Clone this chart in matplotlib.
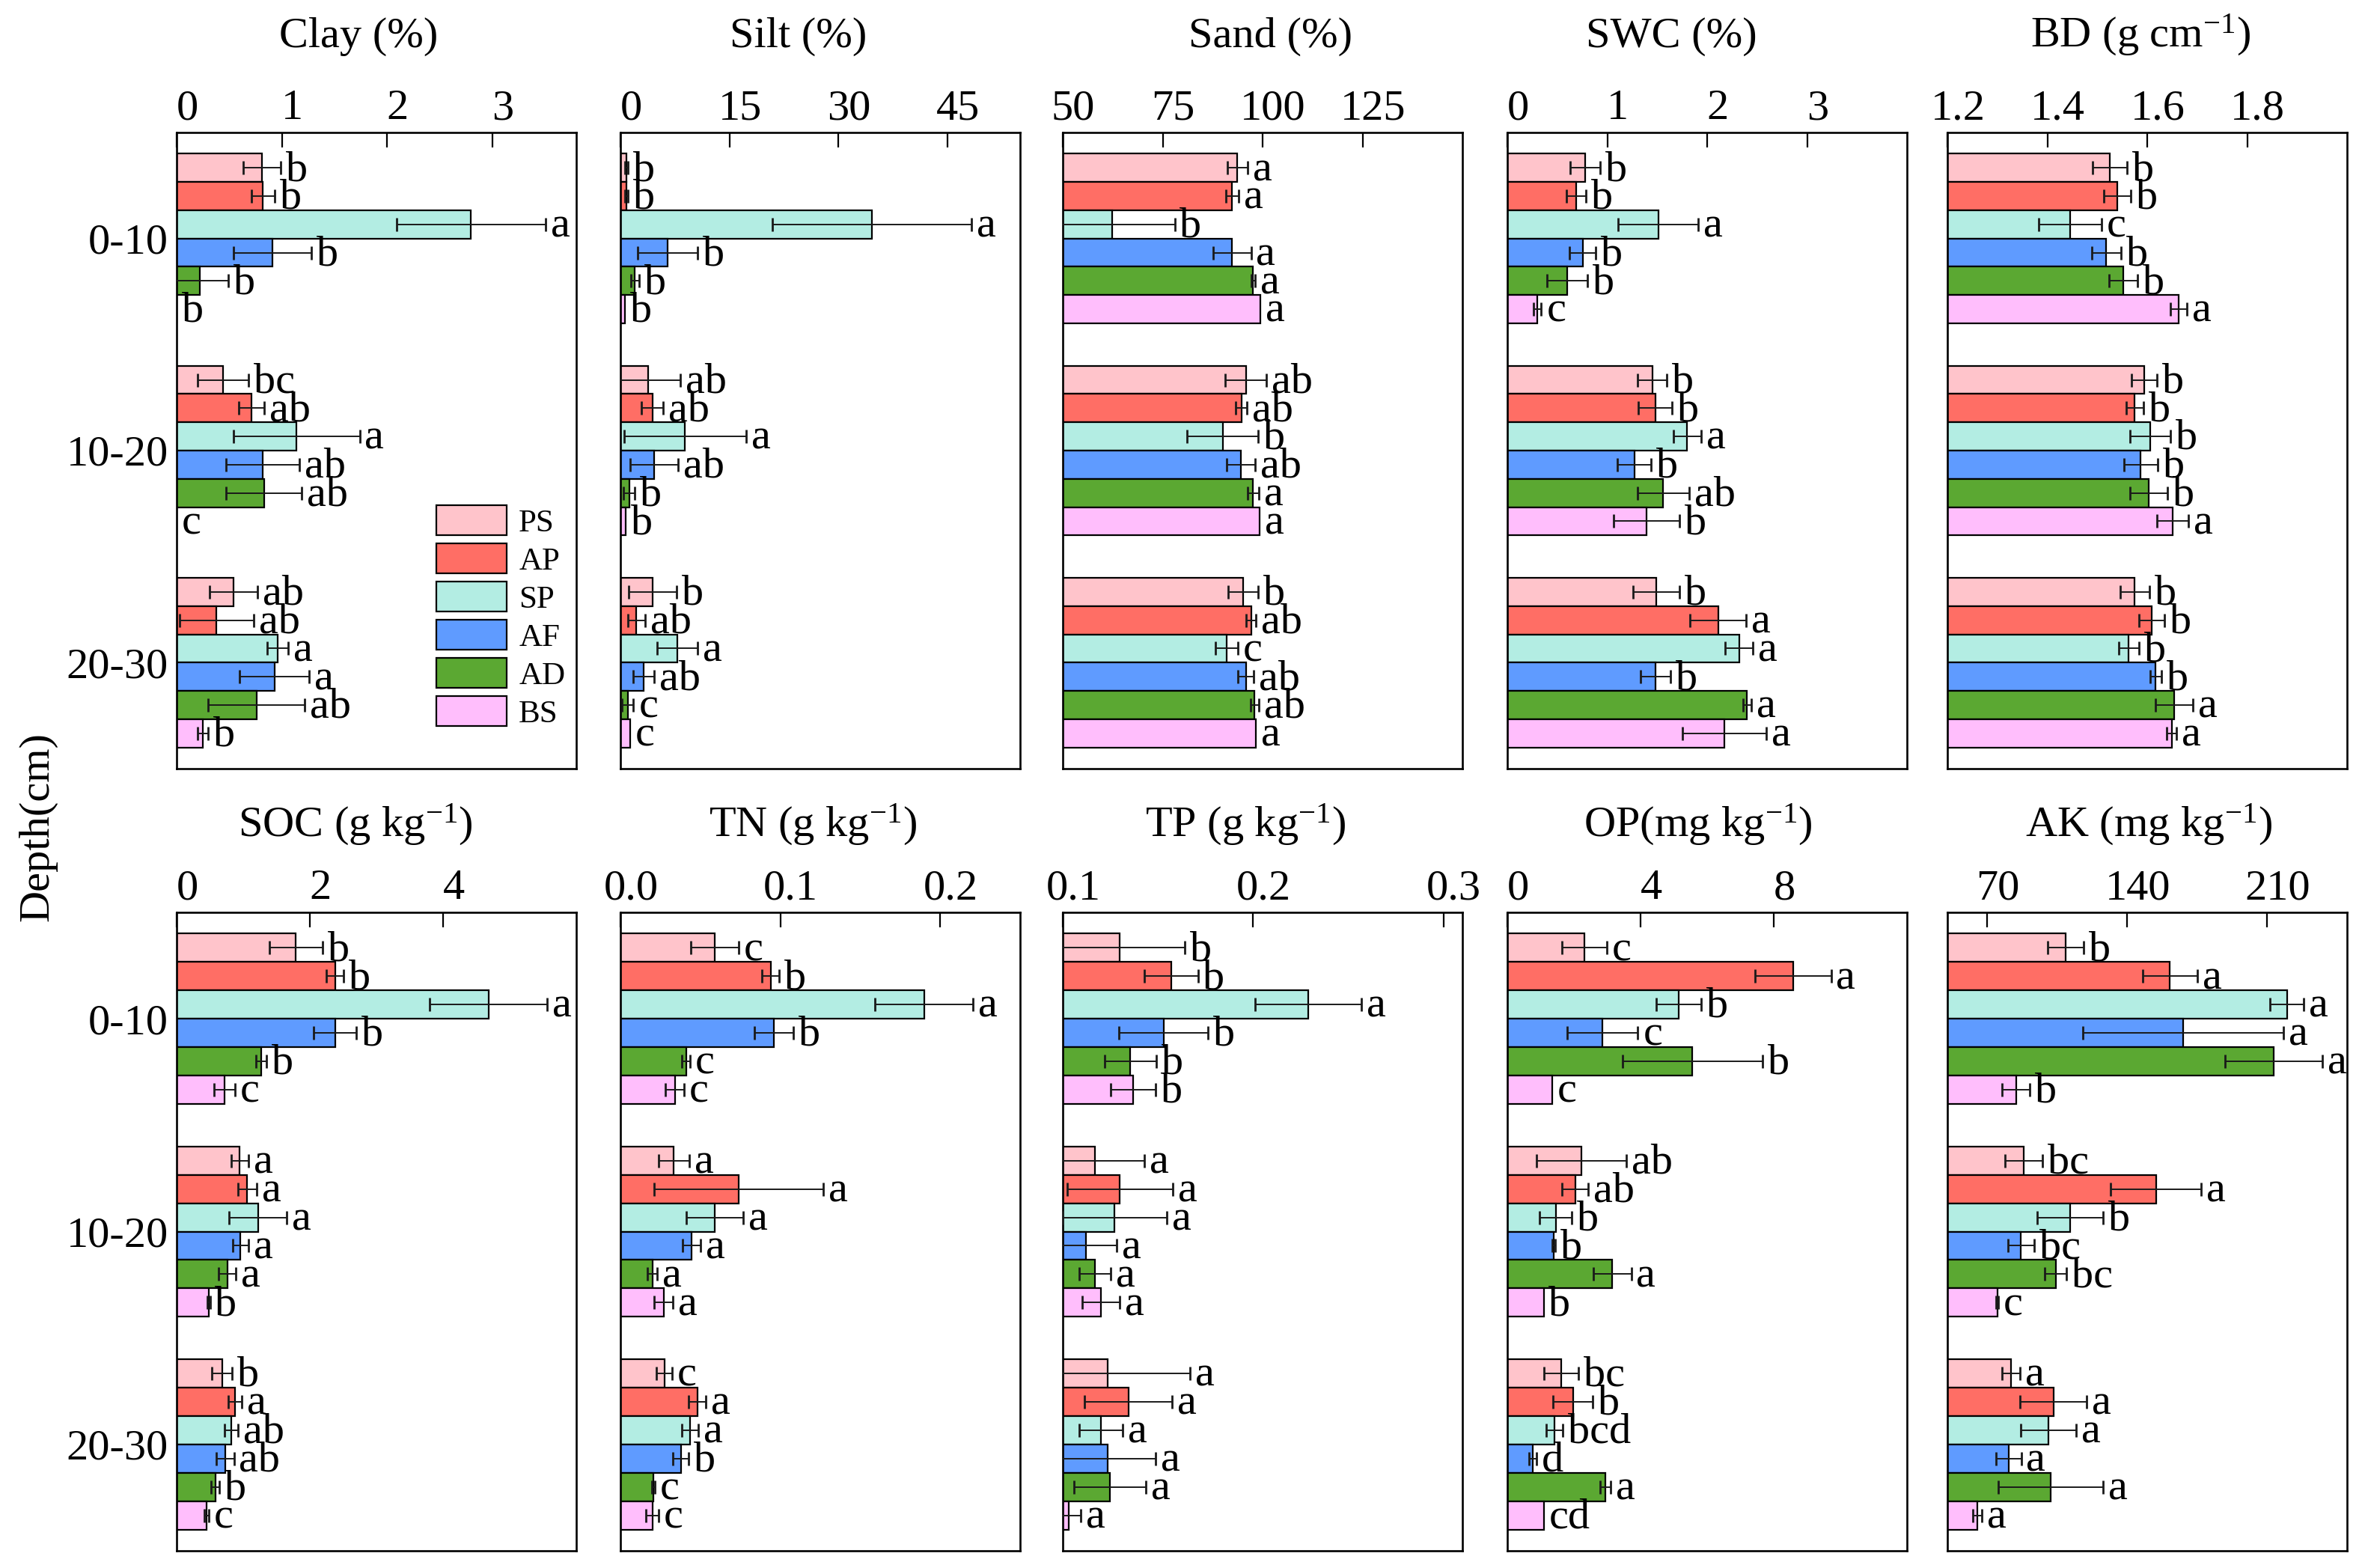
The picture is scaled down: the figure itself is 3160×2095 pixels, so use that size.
import numpy as np
import matplotlib
matplotlib.use('Agg')
from matplotlib import pyplot as plt
from matplotlib.patches import Patch
from matplotlib.transforms import ScaledTranslation

plt.rcParams['font.family'] = ['Liberation Serif', 'DejaVu Serif']
plt.rcParams['mathtext.fontset'] = 'custom'
plt.rcParams['mathtext.rm'] = 'Liberation Serif'
plt.rcParams['mathtext.it'] = 'Liberation Serif:italic'

treatments = ['PS', 'AP', 'SP', 'AF', 'AD', 'BS']
colors = ['#FFC4CB', '#FF6E65', '#B3EDE3', '#5F9BFF', '#5BA832', '#FFBEFC']
depths = ['0-10', '10-20', '20-30']

# rows = depth (0-10, 10-20, 20-30), columns = treatments
clay_mean = [[0.81, 0.82, 2.80, 0.91, 0.22, 0.0],
             [0.44, 0.71, 1.14, 0.82, 0.83, 0.0],
             [0.54, 0.38, 0.96, 0.93, 0.76, 0.25]]
clay_err = [[0.18, 0.11, 0.71, 0.37, 0.27, 0.0],
            [0.24, 0.12, 0.60, 0.35, 0.36, 0.0],
            [0.23, 0.35, 0.10, 0.33, 0.46, 0.05]]
clay_sig = [['b', 'b', 'a', 'b', 'b', 'b'],
            ['bc', 'ab', 'a', 'ab', 'ab', 'c'],
            ['ab', 'ab', 'a', 'a', 'ab', 'b']]

silt_mean = [[0.8, 0.8, 34.6, 6.5, 2.0, 0.6],
             [3.8, 4.4, 8.9, 4.6, 1.2, 0.7],
             [4.4, 2.2, 7.8, 3.2, 1.0, 1.3]]
silt_err = [[0.2, 0.2, 13.7, 4.1, 0.6, 0.0],
            [4.4, 1.5, 8.4, 3.3, 0.8, 0.0],
            [3.3, 1.2, 2.8, 1.4, 0.8, 0.0]]
silt_sig = [['b', 'b', 'a', 'b', 'b', 'b'],
            ['ab', 'ab', 'a', 'ab', 'b', 'b'],
            ['b', 'ab', 'a', 'ab', 'c', 'c']]

sand_mean = [[93.7, 92.4, 62.4, 92.4, 97.6, 99.4],
             [95.8, 94.7, 90.0, 94.6, 97.6, 99.2],
             [95.1, 97.1, 91.0, 95.8, 98.0, 98.4]]
sand_err = [[2.5, 1.6, 15.6, 4.7, 0.5, 0.0],
            [5.1, 1.4, 8.9, 3.6, 1.4, 0.0],
            [3.8, 1.3, 2.8, 2.0, 1.0, 0.0]]
sand_sig = [['a', 'a', 'b', 'a', 'a', 'a'],
            ['ab', 'ab', 'b', 'ab', 'a', 'a'],
            ['b', 'ab', 'c', 'ab', 'ab', 'a']]

swc_mean = [[0.78, 0.69, 1.51, 0.755, 0.60, 0.30],
            [1.45, 1.48, 1.80, 1.27, 1.56, 1.39],
            [1.49, 2.11, 2.32, 1.48, 2.40, 2.17]]
swc_err = [[0.15, 0.095, 0.40, 0.13, 0.20, 0.04],
           [0.145, 0.17, 0.14, 0.17, 0.26, 0.33],
           [0.235, 0.28, 0.14, 0.15, 0.04, 0.42]]
swc_sig = [['b', 'b', 'a', 'b', 'b', 'c'],
           ['b', 'b', 'a', 'b', 'ab', 'b'],
           ['b', 'a', 'a', 'b', 'a', 'a']]

bd_mean = [[1.525, 1.540, 1.446, 1.518, 1.552, 1.663],
           [1.594, 1.575, 1.606, 1.587, 1.603, 1.651],
           [1.575, 1.609, 1.563, 1.617, 1.654, 1.649]]
bd_err = [[0.035, 0.027, 0.063, 0.029, 0.028, 0.016],
          [0.026, 0.017, 0.040, 0.034, 0.037, 0.032],
          [0.029, 0.025, 0.020, 0.011, 0.037, 0.010]]
bd_sig = [['b', 'b', 'c', 'b', 'b', 'a'],
          ['b', 'b', 'b', 'b', 'b', 'a'],
          ['b', 'b', 'b', 'b', 'a', 'a']]

soc_mean = [[1.79, 2.38, 4.68, 2.38, 1.27, 0.72],
            [0.945, 1.06, 1.22, 0.96, 0.76, 0.48],
            [0.68, 0.88, 0.82, 0.73, 0.58, 0.45]]
soc_err = [[0.40, 0.13, 0.88, 0.32, 0.08, 0.155],
           [0.13, 0.14, 0.43, 0.12, 0.13, 0.02],
           [0.15, 0.10, 0.10, 0.13, 0.06, 0.03]]
soc_sig = [['b', 'b', 'a', 'b', 'b', 'c'],
           ['a', 'a', 'a', 'a', 'a', 'b'],
           ['b', 'a', 'ab', 'ab', 'b', 'c']]

tn_mean = [[0.059, 0.094, 0.190, 0.096, 0.041, 0.034],
           [0.0334, 0.074, 0.059, 0.0445, 0.020, 0.027],
           [0.0274, 0.048, 0.0436, 0.0377, 0.0206, 0.020]]
tn_err = [[0.0148, 0.0054, 0.0306, 0.0123, 0.0025, 0.0058],
          [0.0096, 0.053, 0.018, 0.0057, 0.003, 0.006],
          [0.0047, 0.0052, 0.005, 0.005, 0.001, 0.004]]
tn_sig = [['c', 'b', 'a', 'b', 'c', 'c'],
          ['a', 'a', 'a', 'a', 'a', 'a'],
          ['c', 'a', 'a', 'b', 'c', 'c']]

tp_mean = [[0.130, 0.157, 0.229, 0.153, 0.1355, 0.1369],
           [0.117, 0.130, 0.127, 0.112, 0.117, 0.120],
           [0.1237, 0.1346, 0.120, 0.1237, 0.1248, 0.103]]
tp_err = [[0.034, 0.014, 0.028, 0.0234, 0.0136, 0.0117],
          [0.026, 0.0277, 0.0275, 0.0163, 0.0083, 0.0098],
          [0.043, 0.023, 0.0113, 0.025, 0.0189, 0.0065]]
tp_sig = [['b', 'b', 'a', 'b', 'b', 'b'],
          ['a', 'a', 'a', 'a', 'a', 'a'],
          ['a', 'a', 'a', 'a', 'a', 'a']]

op_mean = [[2.31, 8.58, 5.15, 2.86, 5.56, 1.34],
           [2.23, 2.04, 1.45, 1.39, 3.15, 1.09],
           [1.61, 1.97, 1.41, 0.76, 2.95, 1.09]]
op_err = [[0.67, 1.14, 0.67, 1.06, 2.10, 0.0],
          [1.35, 0.39, 0.49, 0.05, 0.57, 0.0],
          [0.52, 0.59, 0.25, 0.11, 0.16, 0.0]]
op_sig = [['c', 'a', 'b', 'c', 'b', 'c'],
          ['ab', 'ab', 'b', 'b', 'a', 'b'],
          ['bc', 'b', 'bcd', 'd', 'a', 'cd']]

ak_mean = [[109.2, 161.3, 220.0, 168.1, 213.2, 84.4],
           [88.2, 154.4, 111.3, 86.8, 104.2, 75.0],
           [81.9, 103.1, 100.6, 80.7, 101.7, 64.9]]
ak_err = [[8.9, 13.7, 8.4, 50.2, 24.4, 6.9],
          [9.4, 22.7, 16.5, 6.6, 5.4, 0.5],
          [4.6, 16.7, 13.9, 6.2, 26.1, 2.3]]
ak_sig = [['b', 'a', 'a', 'a', 'a', 'b'],
          ['bc', 'a', 'b', 'bc', 'bc', 'c'],
          ['a', 'a', 'a', 'a', 'a', 'a']]

# title, mean, err, letters, xlim, xticks, title x position (axes fraction)
panels = [
    ('Clay (%)', clay_mean, clay_err, clay_sig, (0, 3.8), [0, 1, 2, 3], 0.456),
    ('Silt (%)', silt_mean, silt_err, silt_sig, (0, 55), [0, 15, 30, 45], 0.446),
    ('Sand (%)', sand_mean, sand_err, sand_sig, (50, 150), [50, 75, 100, 125], 0.52),
    ('SWC (%)', swc_mean, swc_err, swc_sig, (0, 4), [0, 1, 2, 3], 0.41),
    ('BD (g cm$^{-1}$)', bd_mean, bd_err, bd_sig, (1.2, 2.0), [1.2, 1.4, 1.6, 1.8], 0.484),
    ('SOC (g kg$^{-1}$)', soc_mean, soc_err, soc_sig, (0, 6), [0, 2, 4], 0.447),
    ('TN (g kg$^{-1}$)', tn_mean, tn_err, tn_sig, (0, 0.25), [0.0, 0.1, 0.2], 0.482),
    ('TP (g kg$^{-1}$)', tp_mean, tp_err, tp_sig, (0.1, 0.31), [0.1, 0.2, 0.3], 0.458),
    ('OP(mg kg$^{-1}$)', op_mean, op_err, op_sig, (0, 12), [0, 4, 8], 0.478),
    ('AK (mg kg$^{-1}$)', ak_mean, ak_err, ak_sig, (50, 250), [70, 140, 210], 0.504),
]

W, H = 3160, 2095
fig = plt.figure(figsize=(W / 100, H / 100), dpi=100)

lefts = [236, 829, 1420, 2014, 2602]
aw = 534
row_boxes = [(177, 1027), (1219, 2072)]

bar_h = 0.8 / 6
ypos = np.arange(len(depths))
label_shift = ScaledTranslation(14 / 100, 0, fig.dpi_scale_trans)

for k, (title, mean, err, sig, xlim, xticks, tx) in enumerate(panels):
    r, c = divmod(k, 5)
    top, bot = row_boxes[r]
    ax = fig.add_axes([lefts[c] / W, 1 - bot / H, aw / W, (bot - top) / H])
    mean = np.array(mean)
    err = np.array(err)

    for i, tr in enumerate(treatments):
        yy = ypos + (i - 2.5) * bar_h
        ax.barh(yy, mean[:, i], height=bar_h, color=colors[i],
                edgecolor='black', linewidth=1.6, label=tr, zorder=2)
        for d in range(len(depths)):
            m, e = mean[d, i], err[d, i]
            if e > 0:
                ax.errorbar(m, yy[d], xerr=e, fmt='none', ecolor='#1a1a1a',
                            elinewidth=1.4, capsize=6.5, capthick=2.0, zorder=3)
            ax.annotate(sig[d][i], xy=(max(m + e, xlim[0]), yy[d]),
                        xytext=(5, -2), textcoords='offset points',
                        ha='left', va='center', fontsize=42,
                        annotation_clip=False, zorder=4)

    ax.set_xlim(*xlim)
    ax.set_ylim(2.5, -0.5)
    ax.set_xticks(xticks)
    ax.xaxis.tick_top()
    ax.tick_params(axis='x', direction='in', length=14.5, width=1.6, pad=4,
                   labelsize=42, top=True, bottom=False)
    for lab in ax.get_xticklabels():
        lab.set_transform(lab.get_transform() + label_shift)
    ax.set_yticks(ypos)
    if c == 0:
        ax.set_yticklabels(depths)
        ax.tick_params(axis='y', length=0, pad=8, labelsize=42)
    else:
        ax.set_yticklabels([])
        ax.tick_params(axis='y', length=0)
    for sp in ax.spines.values():
        sp.set_linewidth(1.9)
    ax.text(tx, 1 + (114 if r == 0 else 101) / (bot - top), title,
            transform=ax.transAxes, ha='center', va='baseline', fontsize=42)

    if k == 0:
        handles = [Patch(facecolor=colors[i], edgecolor='black', linewidth=1.6,
                         label=tr) for i, tr in enumerate(treatments)]
        ax.legend(handles=handles, loc='upper left', bbox_to_anchor=(0.649, 0.414),
                  frameon=False, fontsize=31, borderpad=0, borderaxespad=0,
                  handlelength=2.2, handleheight=1.05, labelspacing=0.17,
                  handletextpad=0.37)

fig.text(0.016, 0.473, 'Depth(cm)', rotation=90, ha='center', va='center',
         fontsize=42)

fig.savefig('out.png', dpi=100)
